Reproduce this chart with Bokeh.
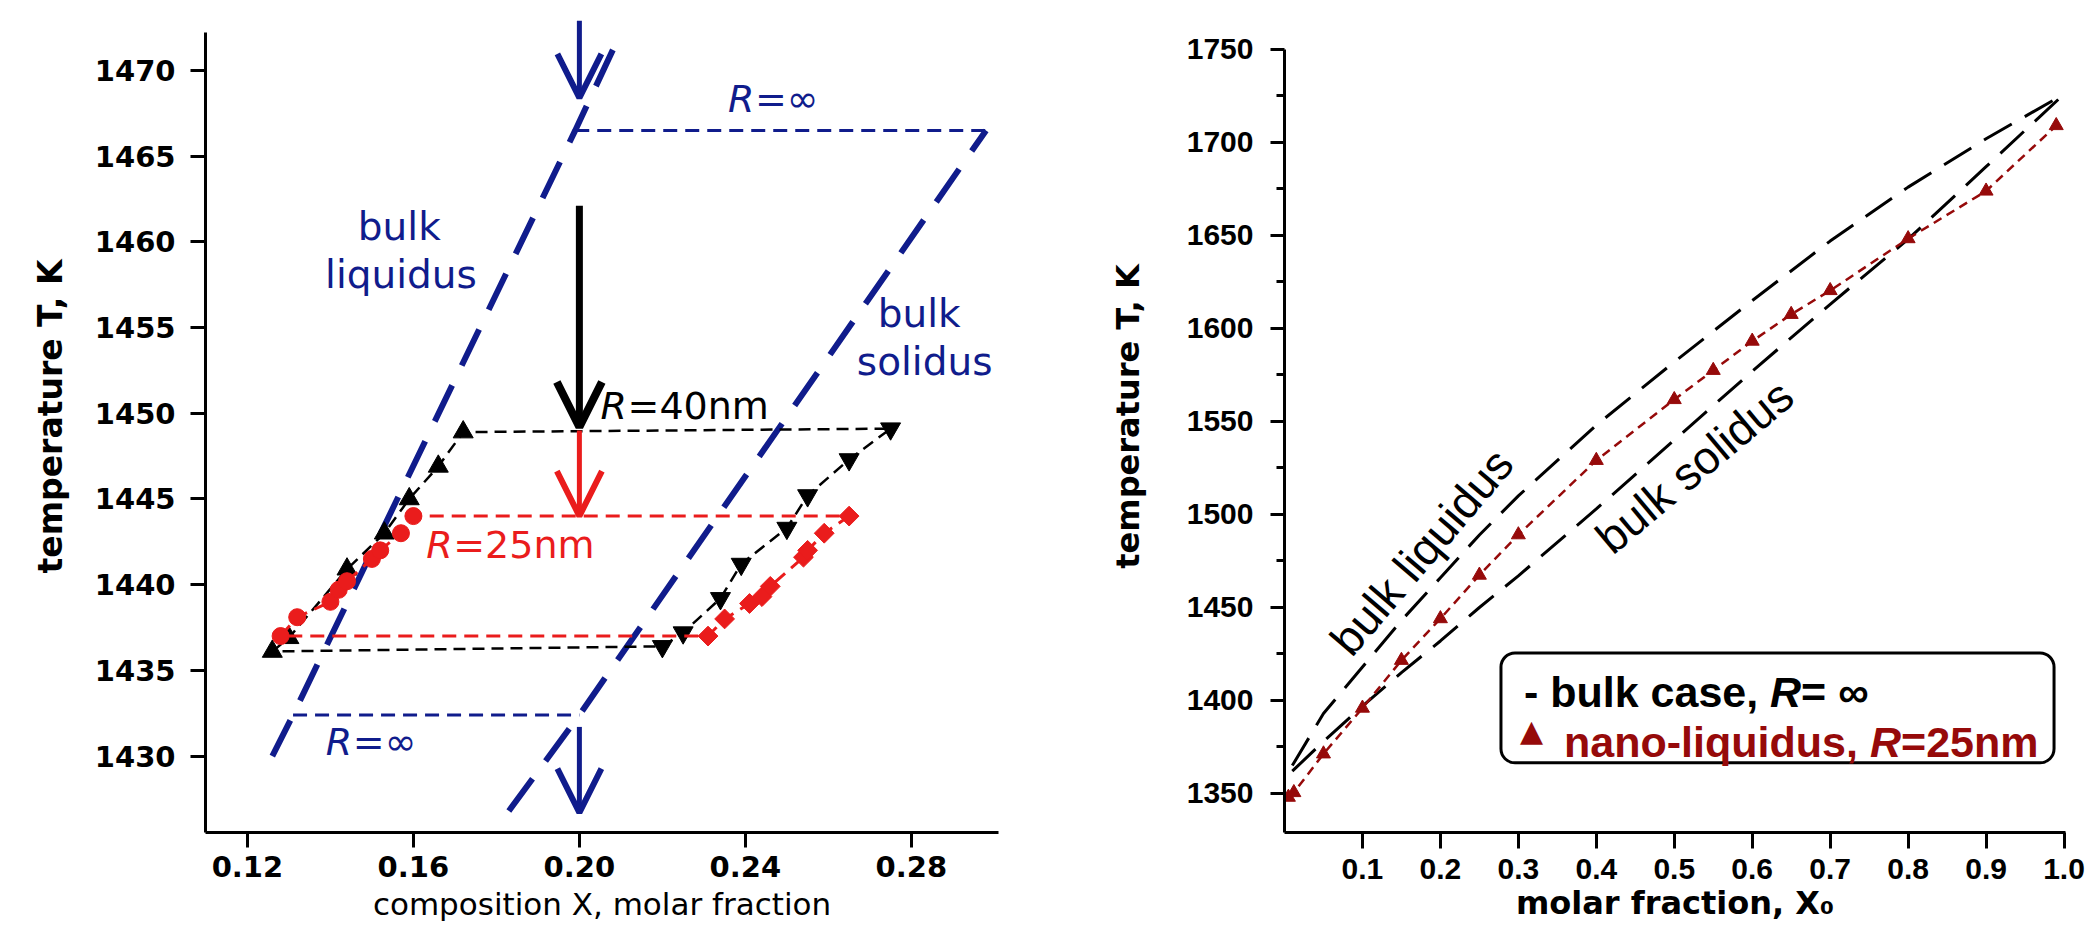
from bokeh.plotting import figure
from bokeh.layouts import row
from bokeh.models import Range1d, FixedTicker, NumeralTickFormatter, Arrow, OpenHead, Label, BoxAnnotation
from bokeh.embed import file_html
from bokeh.resources import INLINE
import numpy as np

# ================= LEFT PANEL DATA =================
left_xticks = [0.12, 0.16, 0.20, 0.24, 0.28]
left_yticks = [1430, 1435, 1440, 1445, 1450, 1455, 1460, 1465, 1470]

# bulk (R = infinity) liquidus / solidus and tie lines
bulk_liq_X = [0.126, 0.131, 0.199, 0.210]
bulk_liq_T = [1430.0, 1432.4, 1466.5, 1472.2]
bulk_sol_X = [0.183, 0.200, 0.298]
bulk_sol_T = [1426.8, 1432.4, 1466.5]
tie_low_X = [0.131, 0.200]
tie_low_T = [1432.4, 1432.4]
tie_high_X = [0.199, 0.298]
tie_high_T = [1466.5, 1466.5]

# R = 40 nm
r40_liq_X = [0.126, 0.130, 0.144, 0.153, 0.159, 0.166, 0.172]
r40_liq_T = [1436.1, 1436.9, 1440.9, 1443.0, 1445.0, 1446.9, 1448.9]
r40_sol_X = [0.220, 0.225, 0.234, 0.239, 0.250, 0.255, 0.265, 0.275]
r40_sol_T = [1436.4, 1437.2, 1439.2, 1441.2, 1443.3, 1445.2, 1447.3, 1449.1]

# R = 25 nm
r25_liq_X = [0.128, 0.132, 0.140, 0.142, 0.144, 0.150, 0.152, 0.157, 0.160]
r25_liq_T = [1437.0, 1438.1, 1439.0, 1439.7, 1440.2, 1441.5, 1442.0, 1443.0, 1444.0]
r25_sol_X = [0.231, 0.235, 0.241, 0.244, 0.246, 0.254, 0.255, 0.259, 0.265]
r25_sol_T = [1437.0, 1438.0, 1438.9, 1439.3, 1439.9, 1441.6, 1442.0, 1443.0, 1444.0]

# arrows (composition 0.20)
arrow_X = 0.20
arrow_top_T = (1472.9, 1468.4)
arrow_bot_T = (1431.7, 1426.7)
arrow_40_T = (1462.1, 1449.2)
arrow_25_T = (1449.0, 1444.0)

# ================= RIGHT PANEL DATA =================
right_xticks = [0.1, 0.2, 0.3, 0.4, 0.5, 0.6, 0.7, 0.8, 0.9, 1.0]
right_yticks = [1350, 1400, 1450, 1500, 1550, 1600, 1650, 1700, 1750]
right_yminor = [1375, 1425, 1475, 1525, 1575, 1625, 1675, 1725]

bulk_X = [0.01, 0.05, 0.1, 0.15, 0.2, 0.25, 0.3, 0.4, 0.5, 0.6, 0.7, 0.8, 0.9, 1.0]
bulk_liq = [1365, 1393, 1418, 1443, 1466, 1489, 1510, 1548, 1582, 1615, 1647, 1676, 1702, 1726]
bulk_sol = [1362, 1378, 1397, 1415, 1432, 1450, 1467, 1503, 1540, 1577, 1613, 1648, 1687, 1726]

nano_X = [0.005, 0.012, 0.05, 0.1, 0.15, 0.2, 0.25, 0.3, 0.4, 0.5, 0.55, 0.6, 0.65, 0.7, 0.8, 0.9, 0.99]
nano_T = [1348.0, 1350.5, 1371.3, 1395.9, 1421.6, 1444.0, 1467.4, 1489.1, 1529.1, 1561.8,
          1577.5, 1593.2, 1607.6, 1620.4, 1648.3, 1673.9, 1709.1]

BLUE = "#101c8c"
RED = "#ea1c1c"
DARKRED = "#960a0a"
TXT = "DejaVu Sans"
TICKF = "Liberation Sans"


def style_axes(p, tick_font, tick_size):
    for ax in (p.xaxis[0], p.yaxis[0]):
        ax.axis_line_width = 3
        ax.axis_line_color = "black"
        ax.major_tick_line_width = 3
        ax.minor_tick_line_width = 3
        ax.major_tick_in = 0
        ax.minor_tick_in = 0
        ax.major_label_text_font = tick_font
        ax.major_label_text_font_style = "bold"
        ax.major_label_text_font_size = tick_size
        ax.major_label_text_color = "black"
        ax.axis_label_text_font = TXT
        ax.axis_label_text_color = "black"


# ---------------- left figure ----------------
p1 = figure(frame_width=793, frame_height=832, min_border_left=205, min_border_right=52,
            min_border_top=0, min_border_bottom=103,
            x_range=Range1d(0.1099, 0.3010), y_range=Range1d(1425.54, 1474.08),
            output_backend="svg", toolbar_location=None, outline_line_color=None,
            background_fill_color="white", border_fill_color="white")
p1.grid.visible = False
style_axes(p1, "DejaVu Sans", "29px")
p1.xaxis.ticker = FixedTicker(ticks=left_xticks, minor_ticks=[])
p1.yaxis.ticker = FixedTicker(ticks=left_yticks, minor_ticks=[])
p1.xaxis.formatter = NumeralTickFormatter(format="0.00")
p1.xaxis.major_tick_out = 15
p1.yaxis.major_tick_out = 15
p1.xaxis.major_label_standoff = 8
p1.yaxis.major_label_standoff = 15
p1.yaxis.bounds = (1425.54, 1472.2)
p1.xaxis.axis_label = "composition X, molar fraction"
p1.yaxis.axis_label = "temperature T, K"
p1.xaxis.axis_label_text_font_style = "normal"
p1.xaxis.axis_label_text_font_size = "31px"
p1.yaxis.axis_label_text_font_style = "bold"
p1.yaxis.axis_label_text_font_size = "33px"
p1.xaxis.axis_label_standoff = 6
p1.yaxis.axis_label_standoff = 22

# bulk lines
p1.line(bulk_liq_X, bulk_liq_T, line_color=BLUE, line_width=6, line_dash="40 22")
p1.line(bulk_sol_X, bulk_sol_T, line_color=BLUE, line_width=6, line_dash="40 22")
p1.line(tie_low_X, tie_low_T, line_color=BLUE, line_width=3, line_dash="14 8")
p1.line(tie_high_X, tie_high_T, line_color=BLUE, line_width=3, line_dash="14 8")

# R=40nm loop
r40_loop_X = r40_liq_X + r40_sol_X[::-1] + [r40_liq_X[0]]
r40_loop_T = r40_liq_T + r40_sol_T[::-1] + [r40_liq_T[0]]
p1.line(r40_loop_X, r40_loop_T, line_color="black", line_width=2.5, line_dash="12 7")
p1.scatter(r40_liq_X, r40_liq_T, marker="triangle", size=20, color="black")
p1.scatter(r40_sol_X, r40_sol_T, marker="inverted_triangle", size=20, color="black")

# R=25nm loop
r25_loop_X = r25_liq_X + r25_sol_X[::-1] + [r25_liq_X[0]]
r25_loop_T = r25_liq_T + r25_sol_T[::-1] + [r25_liq_T[0]]
p1.line(r25_loop_X, r25_loop_T, line_color=RED, line_width=3, line_dash="14 8")
p1.scatter(r25_liq_X, r25_liq_T, marker="circle", size=17, color=RED)
p1.scatter(r25_sol_X, r25_sol_T, marker="square", angle=np.pi / 4, size=14, color=RED)

# arrows
p1.add_layout(Arrow(x_start=arrow_X, y_start=arrow_top_T[0], x_end=arrow_X, y_end=arrow_top_T[1],
                    line_color=BLUE, line_width=5,
                    end=OpenHead(size=44, line_width=6, line_color=BLUE)))
p1.add_layout(Arrow(x_start=arrow_X, y_start=arrow_bot_T[0], x_end=arrow_X, y_end=arrow_bot_T[1],
                    line_color=BLUE, line_width=5,
                    end=OpenHead(size=44, line_width=6, line_color=BLUE)))
p1.add_layout(Arrow(x_start=arrow_X, y_start=arrow_40_T[0], x_end=arrow_X, y_end=arrow_40_T[1],
                    line_color="black", line_width=7,
                    end=OpenHead(size=45, line_width=8, line_color="black")))
p1.add_layout(Arrow(x_start=arrow_X, y_start=arrow_25_T[0], x_end=arrow_X, y_end=arrow_25_T[1],
                    line_color=RED, line_width=5,
                    end=OpenHead(size=45, line_width=6, line_color=RED)))


def lab(p, x, y, text, color, size, style="normal", font=TXT, align="center",
        baseline="middle", xoff=0, angle=0.0):
    p.add_layout(Label(x=x, y=y, text=text, text_color=color, text_font=font,
                       text_font_size=size, text_font_style=style, text_align=align,
                       text_baseline=baseline, x_offset=xoff, angle=angle))


# blue labels
lab(p1, 0.1566, 1460.9, "bulk", BLUE, "39px")
lab(p1, 0.1570, 1458.1, "liquidus", BLUE, "39px")
lab(p1, 0.2819, 1455.8, "bulk", BLUE, "39px")
lab(p1, 0.2832, 1453.0, "solidus", BLUE, "39px")
# R labels
for (x0, t0, rest, col) in [(0.2358, 1468.35, "=\u221e", BLUE),
                            (0.2051, 1450.45, "=40nm", "black"),
                            (0.1631, 1442.3, "=25nm", RED),
                            (0.1389, 1430.8, "=\u221e", BLUE)]:
    lab(p1, x0, t0, "R", col, "38px", style="italic", align="left")
    lab(p1, x0, t0, rest, col, "38px", align="left", xoff=27)

# ---------------- right figure ----------------
p2 = figure(frame_width=781, frame_height=832, min_border_left=234, min_border_right=23,
            min_border_top=0, min_border_bottom=103,
            x_range=Range1d(0.0, 1.0019), y_range=Range1d(1329.03, 1776.34),
            output_backend="svg", toolbar_location=None, outline_line_color=None,
            background_fill_color="white", border_fill_color="white")
p2.grid.visible = False
style_axes(p2, TICKF, "30px")
p2.xaxis.ticker = FixedTicker(ticks=right_xticks, minor_ticks=[])
p2.yaxis.ticker = FixedTicker(ticks=right_yticks, minor_ticks=right_yminor)
p2.yaxis.bounds = (1329.03, 1750.0)
p2.xaxis.formatter = NumeralTickFormatter(format="0.0")
p2.xaxis.major_tick_out = 16
p2.yaxis.major_tick_out = 14
p2.yaxis.minor_tick_out = 8
p2.xaxis.major_label_standoff = 10
p2.yaxis.major_label_standoff = 17
p2.xaxis.axis_label = "molar fraction, X\u2080"
p2.yaxis.axis_label = "temperature T, K"
p2.xaxis.axis_label_text_font_style = "bold"
p2.xaxis.axis_label_text_font_size = "32px"
p2.yaxis.axis_label_text_font_style = "bold"
p2.yaxis.axis_label_text_font_size = "32px"
p2.xaxis.axis_label_standoff = 2
p2.yaxis.axis_label_standoff = 37

p2.line(bulk_X, bulk_liq, line_color="black", line_width=3, line_dash="32 15")
p2.line(bulk_X, bulk_sol, line_color="black", line_width=3, line_dash="32 15")
p2.line(nano_X, nano_T, line_color=DARKRED, line_width=2.5, line_dash="9 6")
p2.scatter(nano_X, nano_T, marker="triangle", size=14, color=DARKRED)

lab(p2, 0.176, 1480.0, "bulk liquidus", "black", "46px", font=TICKF, angle=np.deg2rad(49.6))
lab(p2, 0.526, 1525.8, "bulk solidus", "black", "46px", font=TICKF, angle=np.deg2rad(40.0))

# legend box (built by hand to allow the italic R)
p2.add_layout(BoxAnnotation(left=0.2777, right=0.9872, top=1425.5, bottom=1366.5,
                            fill_color="white", fill_alpha=1.0, line_color="black",
                            line_alpha=1.0, line_width=3, border_radius=14))
T1, T2 = 1404.5, 1377.5
lab(p2, 0.3072, T1, "- bulk case, ", "black", "43px", style="bold", font=TICKF,
    align="left", baseline="alphabetic")
lab(p2, 0.3072, T1, "R", "black", "43px", style="bold italic", font=TICKF,
    align="left", baseline="alphabetic", xoff=246)
lab(p2, 0.3072, T1, "= \u221e", "black", "43px", style="bold", font=TICKF,
    align="left", baseline="alphabetic", xoff=277)
lab(p2, 0.317, 1383.8, "\u25b2", DARKRED, "30px", font=TXT)
lab(p2, 0.3586, T2, "nano-liquidus, ", DARKRED, "43px", style="bold", font=TICKF,
    align="left", baseline="alphabetic")
lab(p2, 0.3586, T2, "R", DARKRED, "43px", style="bold italic", font=TICKF,
    align="left", baseline="alphabetic", xoff=306)
lab(p2, 0.3586, T2, "=25nm", DARKRED, "43px", style="bold", font=TICKF,
    align="left", baseline="alphabetic", xoff=337)

layout = row(p1, p2, spacing=0)
html = file_html(layout, INLINE, title="phase diagram")
html = html.replace("<body>", "<body style=\"margin:0\">")
open("out.html", "w").write(html)
